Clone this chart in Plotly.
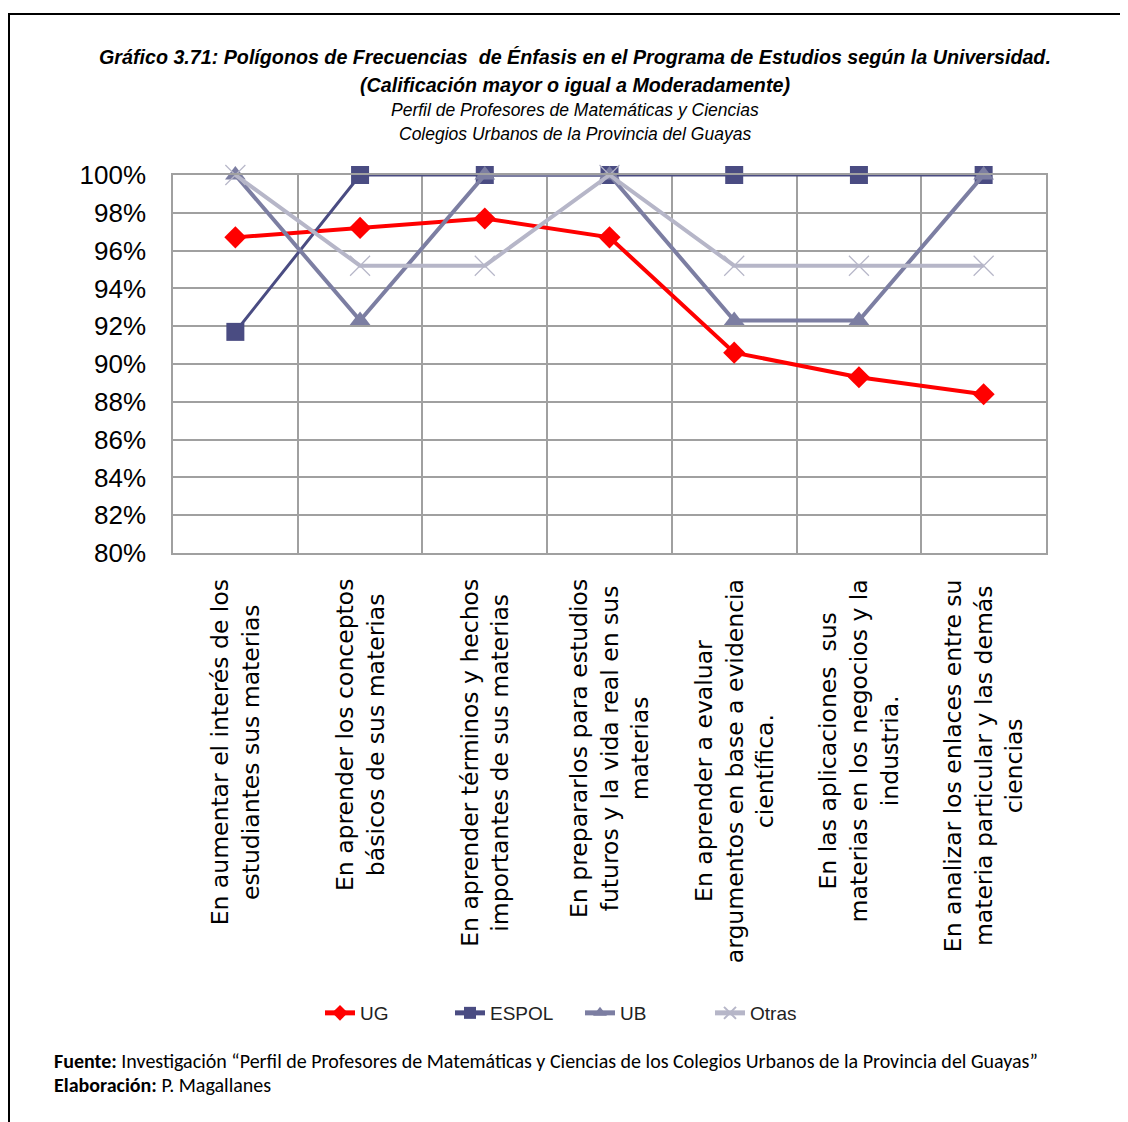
import plotly.graph_objects as go

categories = [
    "En aumentar el interés de los<br>estudiantes sus materias",
    "En aprender los conceptos<br>básicos de sus materias",
    "En aprender términos y hechos<br>importantes de sus materias",
    "En prepararlos para estudios<br>futuros y la vida real en sus<br>materias",
    "En aprender a evaluar<br>argumentos en base a evidencia<br>científica.",
    "En las aplicaciones  sus<br>materias en los negocios y la<br>industria.",
    "En analizar los enlaces entre su<br>materia particular y las demás<br>ciencias",
]
ug = [0.967, 0.972, 0.977, 0.967, 0.906, 0.893, 0.884]
espol = [0.917, 1.0, 1.0, 1.0, 1.0, 1.0, 1.0]
ub = [1.0, 0.923, 1.0, 1.0, 0.923, 0.923, 1.0]
otras = [1.0, 0.952, 0.952, 1.0, 0.952, 0.952, 0.952]
y_ticks = [0.80, 0.82, 0.84, 0.86, 0.88, 0.90, 0.92, 0.94, 0.96, 0.98, 1.00]

xpos = [i + 0.5 for i in range(len(categories))]

OFF = 8  # page body margin
W, H = 1128 - OFF, 1122 - OFF
PL, PR, PT, PB = 173, 1046, 175, 553  # plot area in page pixels


def px(x):
    return (x - PL) / (PR - PL)


def py(y):
    return (PB - y) / (PB - PT)


fig = go.Figure()
fig.add_trace(go.Scatter(x=xpos, y=ug, name="UG", mode="lines+markers", cliponaxis=False,
                         line=dict(color="#ff0000", width=4),
                         marker=dict(symbol="diamond", size=17, color="#ff0000")))
fig.add_trace(go.Scatter(x=xpos, y=espol, name="ESPOL", mode="lines+markers", cliponaxis=False,
                         line=dict(color="#4a4c82", width=3),
                         marker=dict(symbol="square", size=18, color="#4a4c82")))
fig.add_trace(go.Scatter(x=xpos, y=ub, name="UB", mode="lines+markers", cliponaxis=False,
                         line=dict(color="#7c7ea2", width=4),
                         marker=dict(symbol="triangle-up", size=18, color="#7c7ea2")))
fig.add_trace(go.Scatter(x=xpos, y=otras, name="Otras", mode="lines+markers", cliponaxis=False,
                         line=dict(color="#b6b6c8", width=4),
                         marker=dict(symbol="x-thin-open", size=20,
                                     line=dict(color="#b6b6c8", width=1.2))))

annotations = []
for x, c in zip(xpos, categories):
    annotations.append(dict(x=x, y=py(577), xref="x", yref="paper", text=c,
                            textangle=-90, showarrow=False, xanchor="center",
                            yanchor="top", align="center",
                            font=dict(family="DejaVu Sans, Liberation Sans", size=23.5, color="#000")))

title_font = "Liberation Sans Narrow, Arial Narrow, Liberation Sans, Arial"
annotations += [
    dict(x=px(575), y=py(57), xref="paper", yref="paper", showarrow=False,
         text="<b><i>Gráfico 3.71: Polígonos de Frecuencias  de Énfasis en el Programa de Estudios según la Universidad.</i></b>",
         font=dict(family=title_font, size=19.7, color="#000"), xanchor="center", yanchor="middle"),
    dict(x=px(575), y=py(85), xref="paper", yref="paper", showarrow=False,
         text="<b><i>(Calificación mayor o igual a Moderadamente)</i></b>",
         font=dict(family=title_font, size=19.7, color="#000"), xanchor="center", yanchor="middle"),
    dict(x=px(575), y=py(110), xref="paper", yref="paper", showarrow=False,
         text="<i>Perfil de Profesores de Matemáticas y Ciencias</i>",
         font=dict(family=title_font, size=17.5, color="#000"), xanchor="center", yanchor="middle"),
    dict(x=px(575), y=py(134), xref="paper", yref="paper", showarrow=False,
         text="<i>Colegios Urbanos de la Provincia del Guayas</i>",
         font=dict(family=title_font, size=17.5, color="#000"), xanchor="center", yanchor="middle"),
    dict(x=px(52), y=py(1061), xref="paper", yref="paper", showarrow=False,
         text="<b>Fuente:</b> Investigación “Perfil de Profesores de Matemáticas y Ciencias de los Colegios Urbanos de la Provincia del Guayas”",
         font=dict(family="Carlito, Lato, Liberation Sans", size=20, color="#000"), xanchor="left", yanchor="middle"),
    dict(x=px(52), y=py(1085), xref="paper", yref="paper", showarrow=False,
         text="<b>Elaboración:</b> P. Magallanes",
         font=dict(family="Carlito, Lato, Liberation Sans", size=20, color="#000"), xanchor="left", yanchor="middle"),
]

shapes = [
    dict(type="line", xref="paper", yref="paper", x0=px(8), x1=px(1135), y0=py(14), y1=py(14),
         line=dict(color="#000", width=2)),
    dict(type="line", xref="paper", yref="paper", x0=px(9), x1=px(9), y0=py(14), y1=py(1130),
         line=dict(color="#000", width=2)),
]

fig.update_layout(
    width=W, height=H,
    margin=dict(l=PL - OFF, r=W - (PR - OFF), t=PT - OFF, b=H - (PB - OFF)),
    paper_bgcolor="white", plot_bgcolor="white",
    showlegend=True,
    legend=dict(orientation="h", x=px(580), y=py(1013), xanchor="center", yanchor="middle",
                font=dict(family="Liberation Sans, Arial", size=19, color="#222"),
                entrywidth=85, entrywidthmode="pixels", itemsizing="constant"),
    annotations=annotations,
    shapes=shapes,
    font=dict(family="Liberation Sans, Arial", color="#000"),
)
fig.update_xaxes(range=[0, 7], tick0=0, dtick=1, showgrid=True, gridcolor="#a0a0a0", gridwidth=1.5,
                 showticklabels=False, zeroline=False, showline=True, linecolor="#a0a0a0",
                 linewidth=1.5, mirror=True, fixedrange=True)
fig.update_yaxes(range=[0.80, 1.00], tickvals=y_ticks, tickformat=".0%", showgrid=True,
                 gridcolor="#a0a0a0", gridwidth=1.5, zeroline=False, showline=True,
                 linecolor="#a0a0a0", linewidth=1.5, mirror=True, ticklabelstandoff=20,
                 tickfont=dict(family="Liberation Sans, Arial", size=26, color="#000"))

fig.write_html("out.html")
